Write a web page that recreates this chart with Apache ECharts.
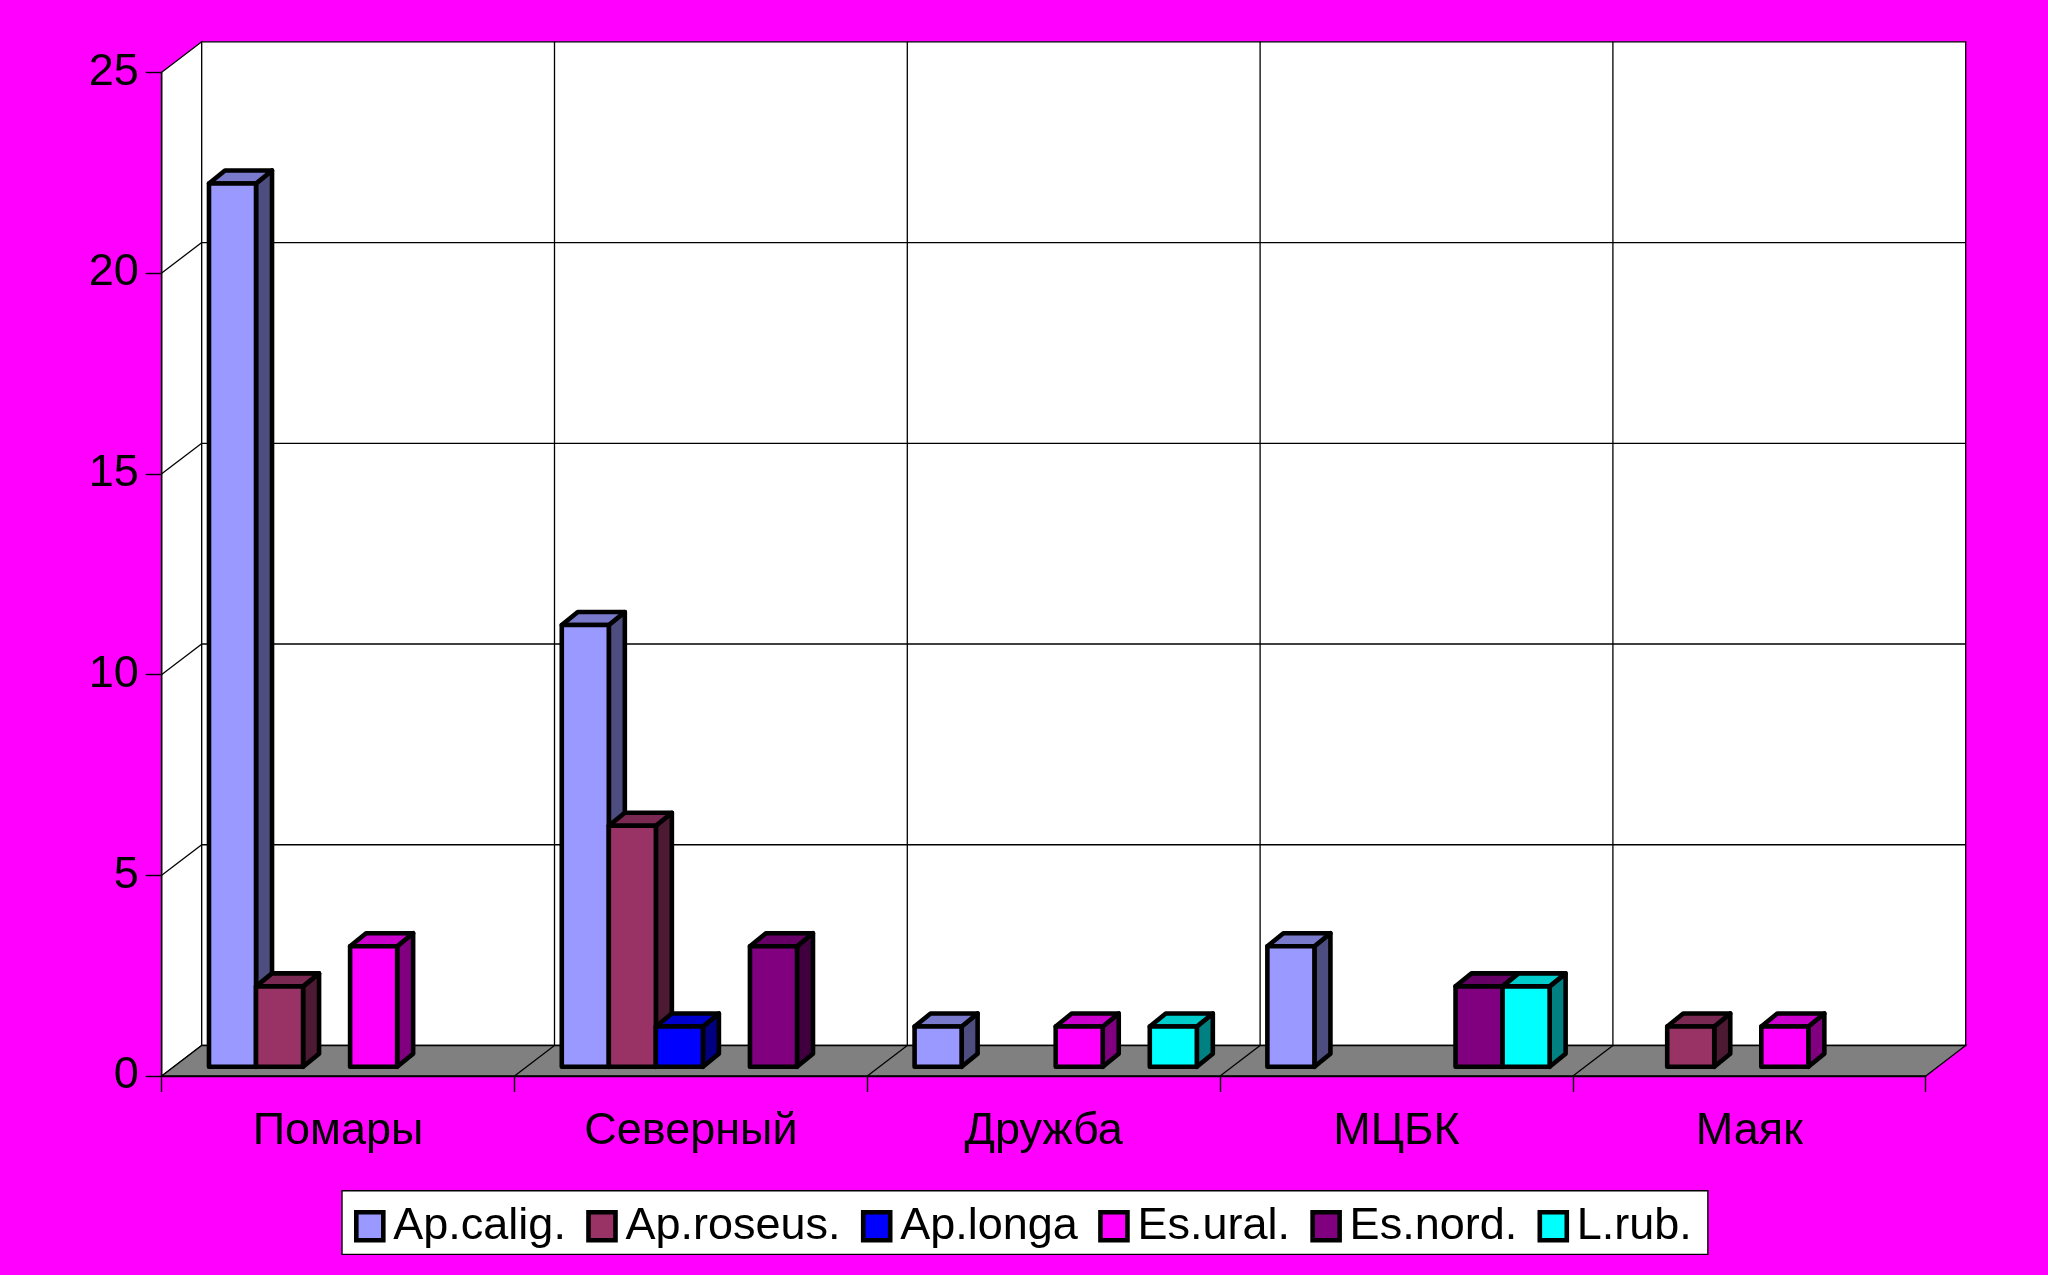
<!DOCTYPE html>
<html>
<head>
<meta charset="utf-8">
<style>html,body{margin:0;padding:0;background:#FF00FF}#c{width:2048px;height:1275px}</style>
<script src="https://cdn.jsdelivr.net/npm/echarts@6/dist/echarts.min.js"></script>
</head>
<body>
<div id="c"></div>
<script>
const categories = ['Помары', 'Северный', 'Дружба', 'МЦБК', 'Маяк'];
const valueTicks = [0, 5, 10, 15, 20, 25];
const apCalig = [22, 11, 1, 3, null];
const apRoseus = [2, 6, null, null, 1];
const apLonga = [null, 1, null, null, null];
const esUral = [3, null, 1, null, 1];
const esNord = [null, 3, null, 2, null];
const lRub = [null, null, 1, 2, null];

const seriesNames = ['Ap.calig.', 'Ap.roseus.', 'Ap.longa', 'Es.ural.', 'Es.nord.', 'L.rub.'];
const seriesValues = [apCalig, apRoseus, apLonga, esUral, esNord, lRub];
const faceColors = ['#9999FF', '#993366', '#0000FF', '#FF00FF', '#800080', '#00FFFF'];
const topColors = ['#7A7ACC', '#7A2952', '#0000CC', '#CC00CC', '#660066', '#00CCCC'];
const sideColors = ['#4D4D80', '#4D1A33', '#000080', '#800080', '#400040', '#008080'];

const WALL_DX = 40, WALL_DY = -30.5;
const FRONT_DX = 12, FRONT_DY = -9.3;
const BAR_DX = 16, BAR_DY = -13;
const FONT = '"Liberation Sans", Arial, sans-serif';
const thin = { stroke: '#000', lineWidth: 1.3 };

function wallItem(params, api) {
  const n = categories.length;
  const band = api.size([1, 0])[0];
  const bl = api.coord([0, 0]); bl[0] -= band / 2;
  const tl = api.coord([0, 25]); tl[0] -= band / 2;
  const br = [bl[0] + band * n, bl[1]];
  const poly = (pts, fill) => ({ type: 'polygon', shape: { points: pts }, style: { fill, stroke: '#000', lineWidth: 1.3 }, silent: true });
  const line = (a, b) => ({ type: 'line', shape: { x1: a[0], y1: a[1], x2: b[0], y2: b[1] }, style: thin, silent: true });
  const off = p => [p[0] + WALL_DX, p[1] + WALL_DY];
  const children = [
    poly([tl, off(tl), off(bl), bl], '#fff'),
    poly([off(tl), [br[0] + WALL_DX, tl[1] + WALL_DY], off(br), off(bl)], '#fff'),
    poly([bl, off(bl), off(br), br], '#808080')
  ];
  valueTicks.forEach(v => {
    if (v === 0 || v === 25) return;
    const p = api.coord([0, v]); p[0] -= band / 2;
    children.push(line(p, off(p)));
    children.push(line(off(p), [br[0] + WALL_DX, p[1] + WALL_DY]));
  });
  for (let i = 1; i < n; i++) {
    const b = [bl[0] + band * i, bl[1]];
    const t = [b[0], tl[1]];
    children.push(line(b, off(b)));
    children.push(line(off(b), off(t)));
  }
  return { type: 'group', children };
}

function barItem(s) {
  return function (params, api) {
    const cat = api.value(0), val = api.value(1);
    if (val == null || isNaN(val)) return null;
    const band = api.size([1, 0])[0];
    const w = band / 7.5;
    const c = api.coord([cat, val]);
    const base = api.coord([cat, 0]);
    const x0 = c[0] - 3 * w + s * w + FRONT_DX, x1 = x0 + w;
    const yt = c[1] + FRONT_DY, yb = base[1] + FRONT_DY;
    const st = fill => ({ fill, stroke: '#000', lineWidth: 4.6, lineJoin: 'round' });
    return {
      type: 'group',
      children: [
        { type: 'polygon', shape: { points: [[x1, yt], [x1 + BAR_DX, yt + BAR_DY], [x1 + BAR_DX, yb + BAR_DY], [x1, yb]] }, style: st(sideColors[s]) },
        { type: 'polygon', shape: { points: [[x0, yt], [x0 + BAR_DX, yt + BAR_DY], [x1 + BAR_DX, yt + BAR_DY], [x1, yt]] }, style: st(topColors[s]) },
        { type: 'polygon', shape: { points: [[x0, yt], [x1, yt], [x1, yb], [x0, yb]] }, style: st(faceColors[s]) }
      ]
    };
  };
}

const chart = echarts.init(document.getElementById('c'), null, { renderer: 'canvas' });
chart.setOption({
  animation: false,
  backgroundColor: '#FF00FF',
  grid: { left: 161.7, top: 72.3, width: 1764, height: 1003.7, containLabel: false },
  xAxis: {
    type: 'category', data: categories, z: 1,
    axisLine: { show: true, lineStyle: { color: '#000', width: 1.4 } },
    axisTick: { show: true, alignWithLabel: false, length: 16, lineStyle: { color: '#000', width: 1.4 } },
    axisLabel: { color: '#000', fontFamily: FONT, fontSize: 45, margin: 33 },
    splitLine: { show: false }
  },
  yAxis: {
    type: 'value', min: 0, max: 25, interval: 5, z: 1,
    axisLine: { show: true, lineStyle: { color: '#000', width: 1.4 } },
    axisTick: { show: true, length: 16, lineStyle: { color: '#000', width: 1.4 } },
    axisLabel: { color: '#000', fontFamily: FONT, fontSize: 45, margin: 23, padding: [12, 0, 0, 0] },
    splitLine: { show: false }
  },
  legend: {
    data: seriesNames, left: 342, top: 1190.7, orient: 'horizontal',
    backgroundColor: '#fff', borderColor: '#000', borderWidth: 1.4, borderRadius: 0,
    padding: [13, 16, 5.7, 12], itemGap: 20.3, itemWidth: 27, itemHeight: 28, icon: 'rect',
    itemStyle: { borderColor: '#000', borderWidth: 4.6 },
    textStyle: { color: '#000', fontFamily: FONT, fontSize: 45, padding: [8, 0, 0, 5] },
    selectedMode: false
  },
  series: [
    { type: 'custom', name: '_walls', z: 0, silent: true, coordinateSystem: 'cartesian2d', renderItem: wallItem, data: [[0, 0]], clip: false }
  ].concat(seriesNames.map((name, s) => ({
    type: 'custom', name, z: 2, coordinateSystem: 'cartesian2d', renderItem: barItem(s), clip: false,
    itemStyle: { color: faceColors[s] },
    encode: { x: 0, y: 1 },
    data: seriesValues[s].map((v, i) => [i, v])
  })))
});
</script>
</body>
</html>
